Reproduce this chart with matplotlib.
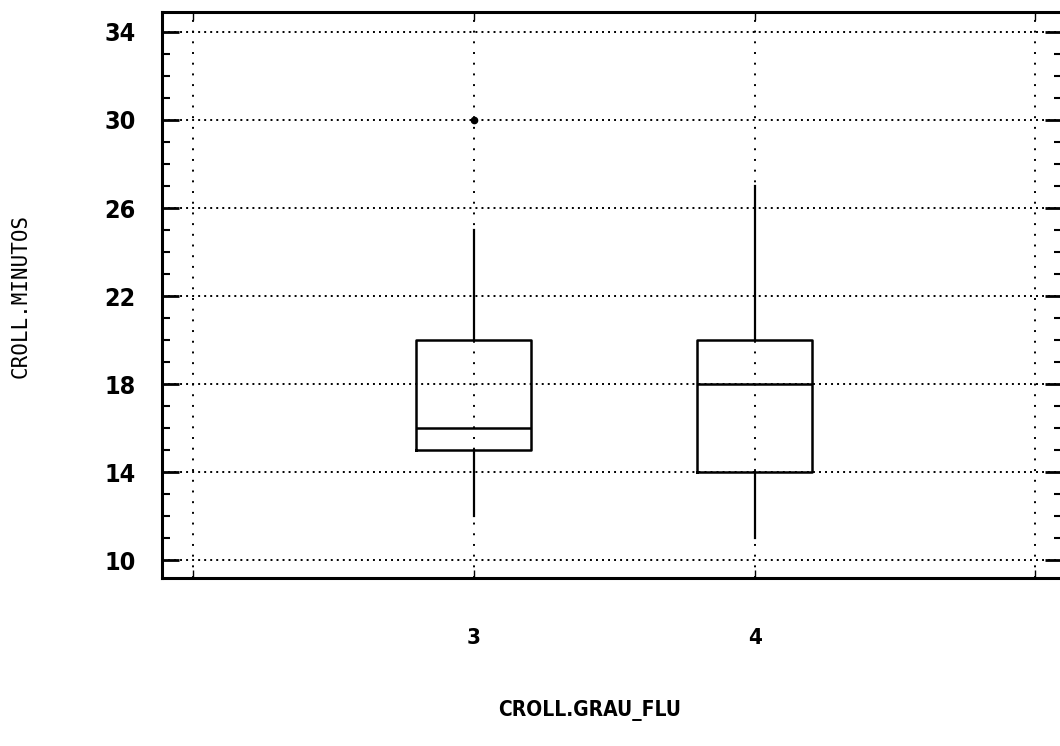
import matplotlib
matplotlib.use("Agg")
import matplotlib.pyplot as plt
from matplotlib.ticker import MultipleLocator

# valores (CROLL.MINUTOS por CROLL.GRAU_FLU)
grupos = [3, 4]
minimo = [12, 11]
q1 = [15, 14]
mediana = [16, 18]
q3 = [20, 20]
maximo = [25, 27]
outliers = [[30], []]

y_ticks = [10, 14, 18, 22, 26, 30, 34]

fig = plt.figure(figsize=(10.6, 7.46), dpi=100)
ax = fig.add_axes([0.153, 0.225, 0.849, 0.759])

stats = []
for i, g in enumerate(grupos):
    stats.append({'label': str(g), 'whislo': minimo[i], 'q1': q1[i],
                  'med': mediana[i], 'q3': q3[i], 'whishi': maximo[i],
                  'fliers': outliers[i]})

ax.bxp(stats, positions=grupos, widths=0.41, showcaps=False,
       boxprops=dict(color='black', linewidth=1.8),
       medianprops=dict(color='black', linewidth=1.8),
       whiskerprops=dict(color='black', linewidth=1.6),
       flierprops=dict(marker='o', markerfacecolor='black',
                       markeredgecolor='black', markersize=4.5))

ax.set_xlim(1.889, 5.096)
ax.set_ylim(9.18, 34.91)

# grid pontilhado
ax.set_yticks(y_ticks)
ax.yaxis.set_minor_locator(MultipleLocator(1))
ax.set_xticks([2, 3, 4, 5])
ax.set_xticklabels([str(t) if t in grupos else '' for t in [2, 3, 4, 5]])
ax.yaxis.grid(True, color='black', linewidth=1.4, linestyle=(0, (1, 2.1)))
ax.xaxis.grid(True, color='black', linewidth=1.4, linestyle=(0, (1, 4.5)))
ax.set_axisbelow(True)

for s in ax.spines.values():
    s.set_linewidth(2.2)

ax.tick_params(axis='y', which='major', direction='in', length=12, width=2,
               right=True, pad=19, labelsize=18)
ax.tick_params(axis='y', which='minor', direction='in', length=6, width=1.5,
               right=True)
ax.tick_params(axis='x', which='major', direction='in', length=6, width=1,
               top=True, pad=36, labelsize=16)

for lab in ax.get_yticklabels() + ax.get_xticklabels():
    lab.set_family('DejaVu Sans')
    lab.set_stretch('condensed')
    lab.set_fontweight('bold')

fig.text(0.556, 0.048, 'CROLL.GRAU_FLU', ha='center', va='center',
         fontsize=15, family='DejaVu Sans', stretch='condensed',
         fontweight='bold')
fig.text(0.019, 0.603, 'CROLL.MINUTOS', ha='center', va='center',
         rotation=90, fontsize=15, family=['DejaVu Sans Mono'])

fig.savefig('out.png', dpi=100)
